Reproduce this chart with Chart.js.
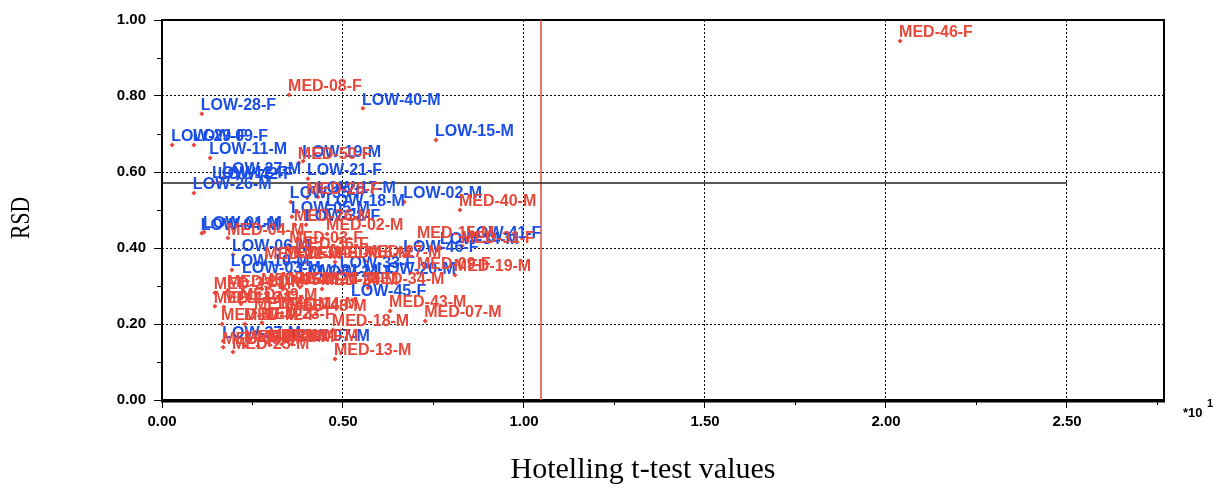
<!DOCTYPE html>
<html>

<head>
  <title>RSD vs Hotelling</title>
  <style>
    body {
      margin: 0;
      background-color: #ffffff;
    }

    #grafico {
      display: block;
    }
  </style>
</head>

<body>
  <canvas id="grafico" width="1219" height="489"></canvas>

  <script src="https://cdn.jsdelivr.net/npm/chart.js"></script>
  <script>
    // LOW group samples
    var lowNames = ['LOW-28-F', 'LOW-40-M', 'LOW-15-M', 'LOW-29-F', 'LOW-09-F', 'LOW-11-M', 'LOW-19-M',
      'LOW-27-M', 'LOW-12-F', 'LOW-42-F', 'LOW-21-F', 'LOW-26-M', 'LOW-02-M', 'LOW-18-M', 'LOW-17-M',
      'LOW-35-F', 'LOW-05-M', 'LOW-38-F', 'LOW-04-M', 'LOW-01-M', 'LOW-06-M', 'LOW-10-M', 'LOW-03-M',
      'LOW-31-M', 'LOW-24-F', 'LOW-33-F', 'LOW-20-M', 'LOW-45-F', 'LOW-46-F', 'LOW-34-M', 'LOW-41-F',
      'LOW-37-M', 'LOW-07-M'];
    var lowT2 = [0.110, 0.555, 0.757, 0.028, 0.088, 0.133, 0.390,
      0.169, 0.141, 0.157, 0.403, 0.088, 0.669, 0.456, 0.431,
      0.356, 0.359, 0.398, 0.110, 0.116, 0.196, 0.193, 0.224,
      0.381, 0.436, 0.494, 0.597, 0.525, 0.669, 0.771, 0.843,
      0.169, 0.359];
    var lowRsd = [0.753, 0.768, 0.684, 0.671, 0.671, 0.637, 0.629,
      0.584, 0.574, 0.571, 0.582, 0.545, 0.521, 0.500, 0.534,
      0.521, 0.482, 0.461, 0.439, 0.442, 0.382, 0.342, 0.324,
      0.318, 0.313, 0.339, 0.321, 0.263, 0.379, 0.400, 0.418,
      0.155, 0.147];

    // MED group samples
    var medNames = ['MED-46-F', 'MED-08-F', 'MED-50-F', 'MED-28-F', 'MED-40-M', 'MED-26-M', 'MED-02-M',
      'MED-04-M', 'MED-03-F', 'MED-36-F', 'MED-15-M', 'MED-31-F', 'MED-27-M', 'MED-22-M', 'MED-30-F',
      'MED-10-M', 'MED-16-M', 'MED-09-F', 'MED-19-M', 'MED-34-M', 'MED-33-M', 'MED-21-M', 'MED-05-M',
      'MED-29-M', 'MED-20-M', 'MED-24-M', 'MED-11-M', 'MED-12-F', 'MED-39-M', 'MED-45-M', 'MED-14-M',
      'MED-48-M', 'MED-47-M', 'MED-42-F', 'MED-23-F', 'MED-38-M', 'MED-06-M', 'MED-35-M', 'MED-49-F',
      'MED-01-M', 'MED-25-M', 'MED-43-M', 'MED-07-M', 'MED-18-M', 'MED-13-M'];
    var medT2 = [2.039, 0.351, 0.378, 0.401, 0.823, 0.367, 0.456,
      0.182, 0.354, 0.370, 0.707, 0.829, 0.561, 0.285, 0.340,
      0.395, 0.478, 0.707, 0.809, 0.569, 0.146, 0.182, 0.276,
      0.331, 0.381, 0.442, 0.146, 0.171, 0.218, 0.257, 0.331,
      0.354, 0.166, 0.229, 0.276, 0.169, 0.229, 0.265, 0.298,
      0.331, 0.196, 0.630, 0.727, 0.472, 0.478];
    var medRsd = [0.945, 0.803, 0.624, 0.532, 0.500, 0.461, 0.437,
      0.426, 0.405, 0.389, 0.416, 0.405, 0.366, 0.361, 0.363,
      0.363, 0.363, 0.334, 0.329, 0.295, 0.282, 0.289, 0.292,
      0.295, 0.297, 0.292, 0.247, 0.245, 0.253, 0.229, 0.229,
      0.224, 0.200, 0.200, 0.203, 0.139, 0.142, 0.142, 0.145,
      0.147, 0.126, 0.234, 0.208, 0.184, 0.108];

    // limits
    var t2Limit = 1.047;
    var rsdLimit = 0.571;
    var rsdLimitEnd = 2.5;

    // axes
    var xTicks = [0, 0.5, 1.0, 1.5, 2.0, 2.5];
    var yTicks = [0, 0.2, 0.4, 0.6, 0.8, 1.0];
    var xMinor = [0.25, 0.75, 1.25, 1.75, 2.25, 2.75];
    var yMinor = [0.1, 0.3, 0.5, 0.7, 0.9];
    var xMax = 2.768;

    var azul = '#1a4ee6';
    var vermelho = '#e8473a';
    var fonteRotulo = 'bold 16px "Liberation Sans", Arial, sans-serif';
    var fonteSerif = '"Liberation Serif", "DejaVu Serif", serif';

    function montarPontos(xs, ys) {
      var pts = [];
      for (var i = 0; i < xs.length; i++) {
        pts.push({ x: xs[i], y: ys[i] });
      }
      return pts;
    }

    // moldura, ticks menores e textos extras
    var extras = {
      id: 'extras',
      beforeDatasetsDraw: function (chart) {
        var ctx = chart.ctx;
        var a = chart.chartArea;
        var sx = chart.scales.x;
        var sy = chart.scales.y;
        ctx.save();
        ctx.strokeStyle = '#000';
        ctx.lineWidth = 2;
        ctx.strokeRect(a.left, a.top, a.right - a.left, a.bottom - a.top);
        ctx.lineWidth = 3;
        ctx.beginPath();
        ctx.moveTo(a.left - 1, a.bottom + 1);
        ctx.lineTo(a.right + 1, a.bottom + 1);
        ctx.stroke();

        ctx.lineWidth = 1;
        ctx.beginPath();
        xMinor.forEach(function (v) {
          var px = Math.round(sx.getPixelForValue(v)) + 0.5;
          ctx.moveTo(px, a.bottom);
          ctx.lineTo(px, a.bottom + 5);
        });
        yMinor.forEach(function (v) {
          var py = Math.round(sy.getPixelForValue(v)) + 0.5;
          ctx.moveTo(a.left, py);
          ctx.lineTo(a.left - 5, py);
        });
        ctx.stroke();
        ctx.restore();
      },
      afterDatasetsDraw: function (chart) {
        var ctx = chart.ctx;
        var a = chart.chartArea;
        ctx.save();
        ctx.font = fonteRotulo;
        ctx.textBaseline = 'middle';
        ctx.textAlign = 'left';
        chart.data.datasets.forEach(function (ds, i) {
          if (!ds.nomes) return;
          var meta = chart.getDatasetMeta(i);
          ctx.fillStyle = ds.corTexto;
          meta.data.forEach(function (el, j) {
            ctx.fillText(ds.nomes[j], el.x - 1, el.y - 8);
          });
        });

        // *10^1
        ctx.fillStyle = '#000';
        ctx.font = 'bold 13px "Liberation Sans", Arial, sans-serif';
        ctx.fillText('*10', a.right + 19, a.bottom + 13);
        ctx.font = 'bold 11px "Liberation Sans", Arial, sans-serif';
        ctx.fillText('1', a.right + 43, a.bottom + 4);

        // titulos dos eixos
        ctx.font = '30px ' + fonteSerif;
        ctx.textAlign = 'center';
        ctx.fillText('Hotelling t-test values', 643, 470);

        ctx.translate(22, 218);
        ctx.rotate(-Math.PI / 2);
        ctx.scale(0.8, 1);
        ctx.font = '27px ' + fonteSerif;
        ctx.fillText('RSD', 0, 0);
        ctx.restore();
      }
    };

    var dados = {
      datasets: [{
        nomes: lowNames,
        corTexto: azul,
        data: montarPontos(lowT2, lowRsd),
        pointStyle: 'rectRot',
        pointRadius: 2.5,
        backgroundColor: vermelho,
        borderColor: vermelho,
        borderWidth: 0
      }, {
        nomes: medNames,
        corTexto: vermelho,
        data: montarPontos(medT2, medRsd),
        pointStyle: 'rectRot',
        pointRadius: 2.5,
        backgroundColor: vermelho,
        borderColor: vermelho,
        borderWidth: 0
      }, {
        type: 'line',
        data: [{ x: 0, y: rsdLimit }, { x: rsdLimitEnd, y: rsdLimit }],
        borderColor: '#222',
        borderWidth: 1.5,
        pointRadius: 0,
        fill: false
      }, {
        type: 'line',
        data: [{ x: t2Limit, y: 0 }, { x: t2Limit, y: 1 }],
        borderColor: vermelho,
        borderWidth: 1.5,
        pointRadius: 0,
        fill: false
      }]
    };

    var fonteTick = { family: '"Liberation Sans", Arial, sans-serif', size: 15, weight: 'bold' };

    var config = {
      type: 'scatter',
      data: dados,
      options: {
        responsive: false,
        devicePixelRatio: 1,
        animation: false,
        layout: { padding: { top: 20, right: 55, left: 0, bottom: 0 } },
        plugins: {
          legend: { display: false },
          tooltip: { enabled: false }
        },
        scales: {
          x: {
            type: 'linear',
            min: 0,
            max: xMax,
            afterBuildTicks: function (s) {
              s.ticks = xTicks.map(function (v) { return { value: v }; });
            },
            afterFit: function (s) { s.height = 89; },
            grid: {
              color: function (c) { return c.tick && c.tick.value === 0 ? 'rgba(0,0,0,0)' : '#000'; },
              tickColor: '#000',
              tickLength: 8,
              lineWidth: 1
            },
            border: { display: false, dash: [2, 2] },
            ticks: {
              color: '#000',
              font: fonteTick,
              padding: 5,
              maxRotation: 0,
              callback: function (v) { return Number(v).toFixed(2); }
            }
          },
          y: {
            type: 'linear',
            min: 0,
            max: 1,
            afterBuildTicks: function (s) {
              s.ticks = yTicks.map(function (v) { return { value: v }; });
            },
            afterFit: function (s) { s.width = 162; },
            grid: {
              color: function (c) {
                return c.tick && (c.tick.value === 0 || c.tick.value === 1) ? 'rgba(0,0,0,0)' : '#000';
              },
              tickColor: '#000',
              tickLength: 8,
              lineWidth: 1
            },
            border: { display: false, dash: [2, 2] },
            ticks: {
              color: '#000',
              font: fonteTick,
              padding: 8,
              callback: function (v) { return Number(v).toFixed(2); }
            }
          }
        }
      },
      plugins: [extras]
    };

    var grafico = new Chart(document.getElementById('grafico'), config);
  </script>
</body>

</html>
